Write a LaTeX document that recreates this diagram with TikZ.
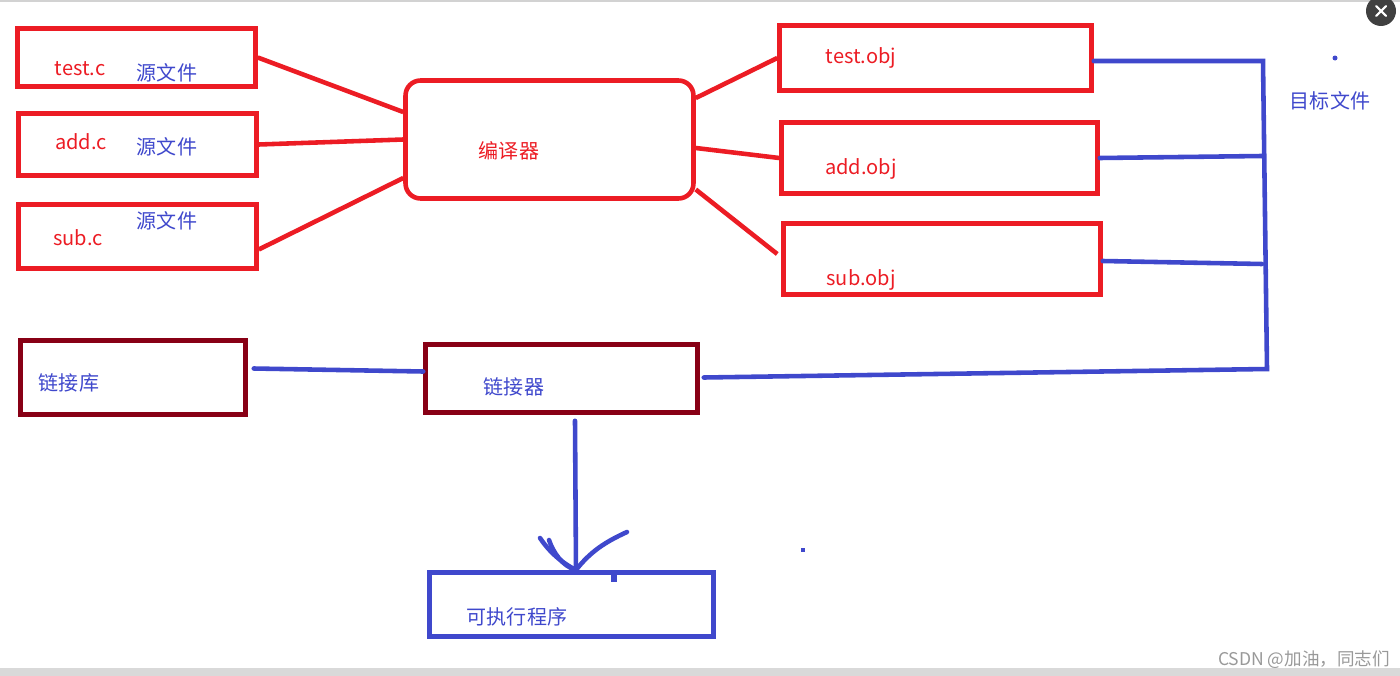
\documentclass[tikz,border=0pt]{standalone}
\usepackage{fontspec}
\setmainfont{Noto Sans CJK SC}
\usepackage{xcolor}
\definecolor{pred}{RGB}{236,28,36}
\definecolor{pblue}{RGB}{63,72,204}
\definecolor{pdark}{RGB}{136,0,21}
\tikzset{
  box/.style={rectangle, inner sep=0pt, line width=2.6pt},
  redbox/.style={box, draw=pred},
  darkbox/.style={box, draw=pdark},
  bluebox/.style={box, draw=pblue},
  redtxt/.style={text=pred, font=\fontsize{11.4}{13}\selectfont},
  bluetxt/.style={text=pblue, font=\fontsize{11.4}{13}\selectfont},
  redline/.style={draw=pred, line width=2.6pt},
  blueline/.style={draw=pblue, line width=2.6pt, line cap=round}
}

\begin{document}
\begin{tikzpicture}[x=0.02cm, y=-0.02cm]
\useasboundingbox (0,0) rectangle (1400,676);
\fill[gray!35] (0,0) rectangle (1400,2);
\fill[gray!30] (0,668) rectangle (1400,676);

% source files
\node (C1) at (136.5,57.5) [redbox, minimum width=4.76cm, minimum height=1.16cm] {};
\node (C2) at (137.5,144.5) [redbox, minimum width=4.76cm, minimum height=1.24cm] {};
\node (C3) at (137.5,236.5) [redbox, minimum width=4.76cm, minimum height=1.28cm] {};
\node (T1) at (80,69) [redtxt] {test.c};
\node (T2) at (81,142) [redtxt] {add.c};
\node (T3) at (78,238) [redtxt] {sub.c};
\node (S1) at (167,73) [bluetxt] {源文件};
\node (S2) at (167,147) [bluetxt] {源文件};
\node (S3) at (167,221) [bluetxt] {源文件};

% compiler
\node (K) at (549.5,139.5) [redbox, rounded corners=0.3cm, minimum width=5.76cm, minimum height=2.36cm] {};
\node (KT) at (509,151) [redtxt] {编译器};

% object files
\node (O1) at (935.5,58) [redbox, minimum width=6.24cm, minimum height=1.30cm] {};
\node (O2) at (939.5,158) [redbox, minimum width=6.32cm, minimum height=1.42cm] {};
\node (O3) at (942,259) [redbox, minimum width=6.34cm, minimum height=1.42cm] {};
\node (P1) at (861,58) [redtxt] {test.obj};
\node (P2) at (861,169) [redtxt] {add.obj};
\node (P3) at (861,280) [redtxt] {sub.obj};
\node (G) at (1330,101) [bluetxt] {目标文件};

% linking
\node (L1) at (133,377.5) [darkbox, minimum width=4.50cm, minimum height=1.48cm] {};
\node (L2) at (561.5,378.5) [darkbox, minimum width=5.44cm, minimum height=1.36cm] {};
\node (E) at (571.5,604.5) [bluebox, minimum width=5.68cm, minimum height=1.28cm] {};
\node (LT1) at (69,383) [bluetxt] {链接库};
\node (LT2) at (514,387) [bluetxt] {链接器};
\node (ET) at (517,617) [bluetxt] {可执行程序};

\coordinate (B1) at (1263,61);
\coordinate (B2) at (1267,369);
\coordinate (tip) at (576,570);

\draw [redline] (C1.east) -- ([yshift=0.55cm]K.west);
\draw [redline] (C2.east) -- (K.west);
\draw [redline] ([yshift=-0.26cm]C3.east) -- ([yshift=-0.77cm]K.west);
\draw [redline] ([yshift=0.83cm]K.east) -- (O1.west);
\draw [redline] ([yshift=-0.17cm]K.east) -- (O2.west);
\draw [redline] ([yshift=-1cm]K.east) -- ([yshift=0.1cm, xshift=-0.08cm]O3.west);

\draw [blueline] ([yshift=-0.06cm]O1.east) -- (B1) -- (B2) -- ([xshift=0.08cm, yshift=0.02cm]L2.east);
\draw [blueline] (O2.east) -- (1262,156);
\draw [blueline] ([yshift=-0.04cm]O3.east) -- (1262,264);
\draw [blueline] ([xshift=0.12cm, yshift=0.18cm]L1.east) -- ([yshift=0.14cm]L2.west);
\draw [blueline] ([xshift=0.27cm, yshift=-0.12cm]L2.south) -- (tip);
\draw [blueline] (tip) .. controls (560,562) and (548,550) .. (540,538);
\draw [blueline] (tip) .. controls (562,566) and (553,552) .. (549,540);
\draw [blueline] (tip) .. controls (590,552) and (605,542) .. (627,532);

\fill [pblue] (1335,58) circle (2.5);
\fill [pblue] (801,548) rectangle (805,552);
\fill [pblue] (611,574) rectangle (617,582);

% window close button
\node (X) at (1381,11) [circle, fill=black!75, minimum size=0.6cm, inner sep=0pt] {};
\draw [white, line width=1.2pt, line cap=round] ([shift={(-0.1cm,0.1cm)}]X.center) -- ([shift={(0.1cm,-0.1cm)}]X.center)
  ([shift={(-0.1cm,-0.1cm)}]X.center) -- ([shift={(0.1cm,0.1cm)}]X.center);
\node (W) at (1304,660) [text=black!40, font=\fontsize{10}{12}\selectfont] {CSDN @加油，同志们};
\end{tikzpicture}
\end{document}
